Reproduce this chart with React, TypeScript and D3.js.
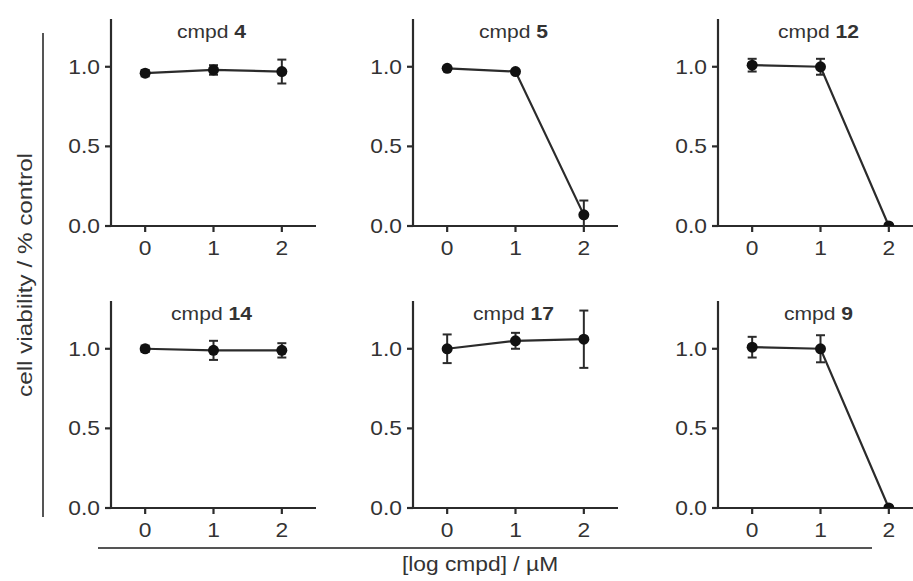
import React, { useEffect, useRef } from 'react';
import * as d3 from 'd3';

// compound numbers shown in the panel titles, row by row
const compounds = ['4', '5', '12', '14', '17', '9'];
const doses = [0, 1, 2];
// mean cell viability (fraction of control) per dose
const viability = [
  [0.96, 0.98, 0.97],
  [0.99, 0.97, 0.07],
  [1.01, 1.0, 0.0],
  [1.0, 0.99, 0.99],
  [1.0, 1.05, 1.06],
  [1.01, 1.0, 0.0],
];
// error bar half-lengths
const errors = [
  [0.02, 0.03, 0.075],
  [0.01, 0.01, 0.09],
  [0.04, 0.05, 0.0],
  [0.02, 0.06, 0.045],
  [0.09, 0.05, 0.18],
  [0.065, 0.085, 0.0],
];
const yTicks = [0, 0.5, 1.0];
const xTicks = [0, 1, 2];
const yLabel = 'cell viability / % control';
const xLabel = '[log cmpd] / µM';

const colLeft = [111, 413, 718];
const rowBase = [226, 508];
const panelW = 205;
const panelH = 207;
const ink = '#2b2b2b';
const font = '"Liberation Sans", Arial, sans-serif';
const sx = 1.14;

const App = () => {
  const node = useRef<SVGSVGElement>(null);

  useEffect(() => {
    const svg = d3.select(node.current);
    svg.selectAll('*').remove();

    compounds.forEach((cmpd, i) => {
      const left = colLeft[i % 3];
      const base = rowBase[Math.floor(i / 3)];
      const x = d3.scaleLinear().domain([-0.5, 2.5]).range([left, left + panelW]);
      const y = d3.scaleLinear().domain([0, 1.3]).range([base, base - panelH]);

      const g = svg.append('g');
      const clipId = 'clip' + i;
      g.append('clipPath').attr('id', clipId)
        .append('rect')
        .attr('x', left - 10).attr('y', base - panelH - 10)
        .attr('width', panelW + 20).attr('height', panelH + 10);

      // axes
      g.append('line')
        .attr('x1', left).attr('x2', left)
        .attr('y1', y(1.3)).attr('y2', y(0))
        .attr('stroke', ink).attr('stroke-width', 2.2);
      g.append('line')
        .attr('x1', left).attr('x2', left + panelW)
        .attr('y1', y(0)).attr('y2', y(0))
        .attr('stroke', ink).attr('stroke-width', 2.2);

      yTicks.forEach(t => {
        g.append('line')
          .attr('x1', left - 6).attr('x2', left)
          .attr('y1', y(t)).attr('y2', y(t))
          .attr('stroke', ink).attr('stroke-width', 2.2);
        g.append('text')
          .attr('transform', `translate(${left - 11},${y(t) + 7}) scale(${sx},1)`)
          .attr('text-anchor', 'end')
          .attr('font-family', font).attr('font-size', 20)
          .attr('fill', '#333')
          .text(t.toFixed(1));
      });

      xTicks.forEach(t => {
        g.append('line')
          .attr('x1', x(t)).attr('x2', x(t))
          .attr('y1', y(0)).attr('y2', y(0) + 6)
          .attr('stroke', ink).attr('stroke-width', 2.2);
        g.append('text')
          .attr('transform', `translate(${x(t)},${y(0) + 29}) scale(${sx},1)`)
          .attr('text-anchor', 'middle')
          .attr('font-family', font).attr('font-size', 20)
          .attr('fill', '#333')
          .text(String(t));
      });

      const title = g.append('text')
        .attr('transform', `translate(${x(1) - 2},${y(1.3) + 19}) scale(${sx},1)`)
        .attr('text-anchor', 'middle')
        .attr('font-family', font).attr('font-size', 18.5)
        .attr('fill', '#333');
      title.append('tspan').text('cmpd ');
      title.append('tspan').attr('font-weight', 'bold').text(cmpd);

      const data = doses.map((d, j) => ({ d, v: viability[i][j], e: errors[i][j] }));
      const plot = g.append('g').attr('clip-path', `url(#${clipId})`);

      plot.append('path')
        .datum(data)
        .attr('fill', 'none')
        .attr('stroke', ink).attr('stroke-width', 2.2)
        .attr('d', d3.line<any>().x(p => x(p.d)).y(p => y(p.v)));

      const bars = plot.selectAll('.err').data(data.filter(p => p.e > 0)).enter().append('g');
      bars.append('line')
        .attr('x1', p => x(p.d)).attr('x2', p => x(p.d))
        .attr('y1', p => y(p.v + p.e)).attr('y2', p => y(p.v - p.e))
        .attr('stroke', ink).attr('stroke-width', 2);
      [1, -1].forEach(s => {
        bars.append('line')
          .attr('x1', p => x(p.d) - 4.5).attr('x2', p => x(p.d) + 4.5)
          .attr('y1', p => y(p.v + s * p.e)).attr('y2', p => y(p.v + s * p.e))
          .attr('stroke', ink).attr('stroke-width', 2);
      });

      plot.selectAll('.pt').data(data).enter().append('circle')
        .attr('cx', p => x(p.d)).attr('cy', p => y(p.v))
        .attr('r', 5.5)
        .attr('fill', '#111');
    });

    // outer axis-like lines and labels
    svg.append('line')
      .attr('x1', 43).attr('x2', 43).attr('y1', 33).attr('y2', 517)
      .attr('stroke', '#555').attr('stroke-width', 2);
    svg.append('line')
      .attr('x1', 98).attr('x2', 872).attr('y1', 548).attr('y2', 548)
      .attr('stroke', '#555').attr('stroke-width', 2);

    svg.append('text')
      .attr('transform', 'translate(32,275) rotate(-90)')
      .attr('text-anchor', 'middle')
      .attr('font-family', font).attr('font-size', 20)
      .attr('textLength', 244).attr('lengthAdjust', 'spacingAndGlyphs')
      .attr('fill', '#333')
      .text(yLabel);

    svg.append('text')
      .attr('transform', `translate(480,571) scale(${sx},1)`)
      .attr('text-anchor', 'middle')
      .attr('font-family', font).attr('font-size', 20)
      .attr('fill', '#333')
      .text(xLabel);
  }, []);

  return (
    <svg
      ref={node}
      width={913}
      height={581}
      style={{ position: 'absolute', left: 0, top: 0, background: '#fff' }}
    />
  );
};

export default App;
